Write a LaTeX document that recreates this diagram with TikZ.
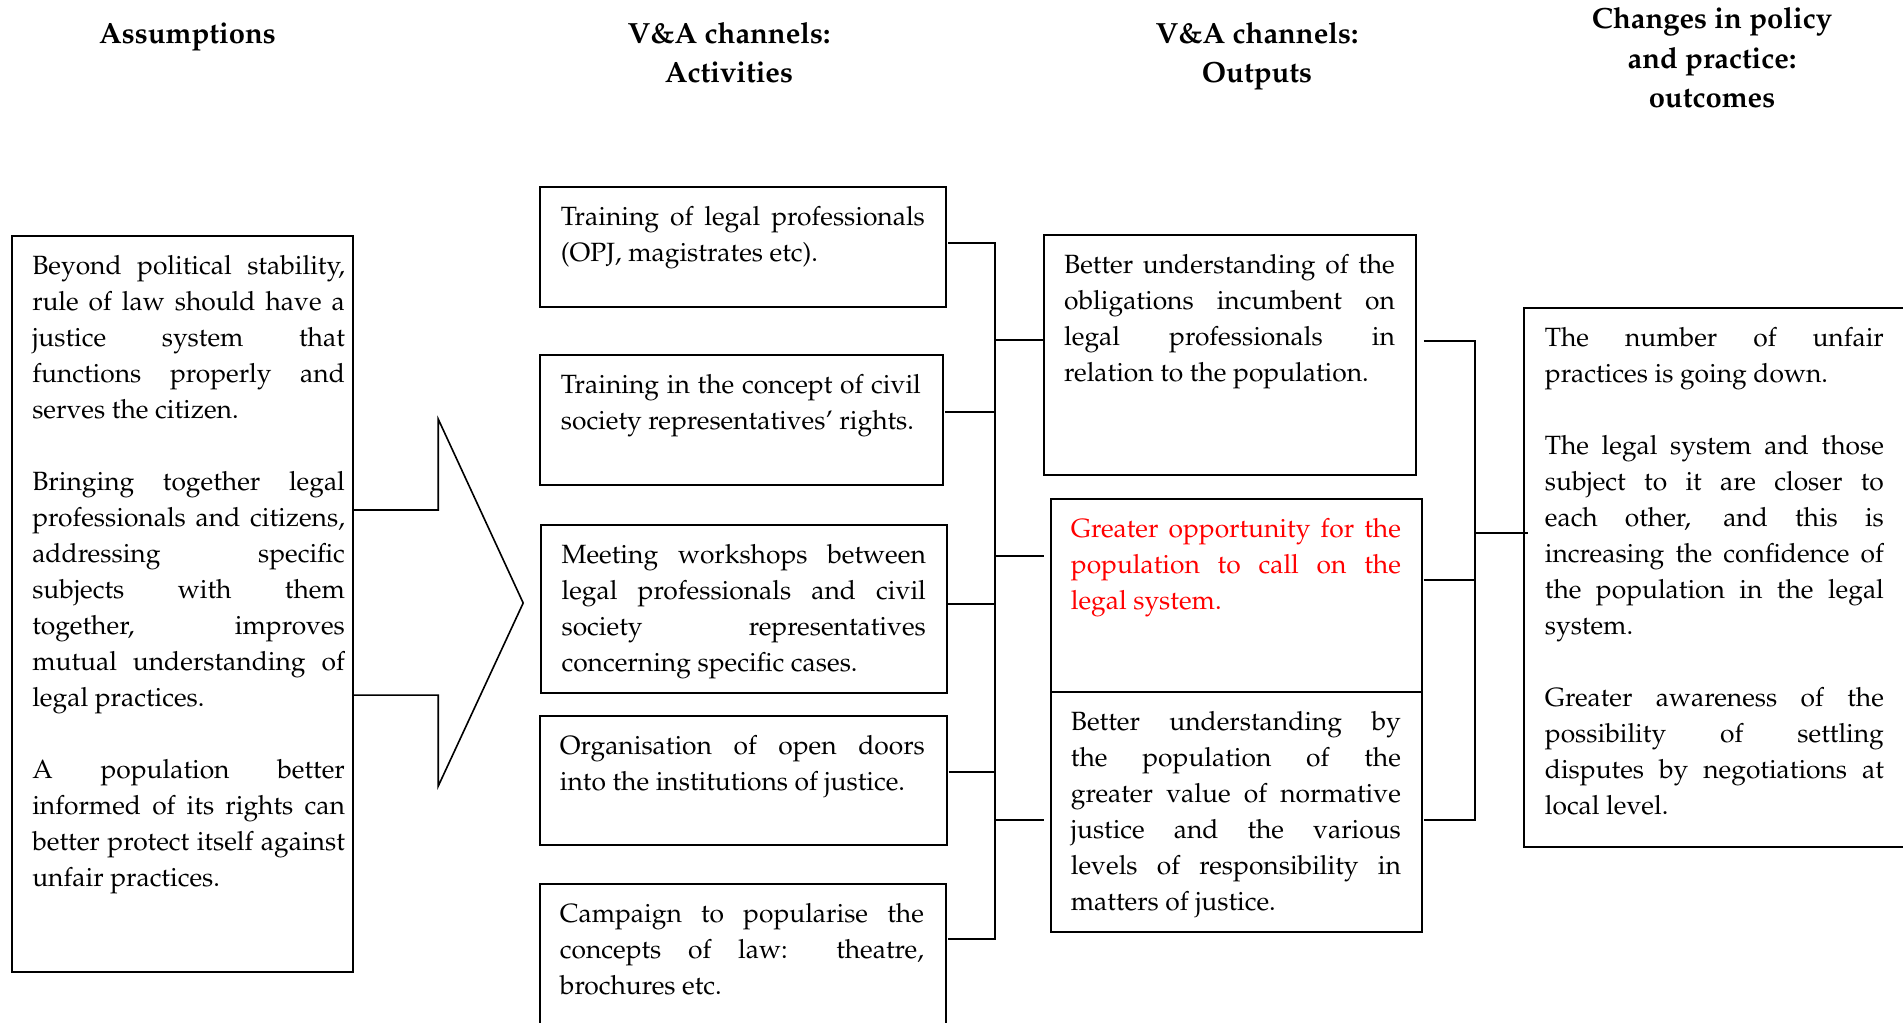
\documentclass[tikz,border=0pt]{standalone}
\usepackage[T1]{fontenc}
\usepackage{mathpazo}
\usetikzlibrary{calc}

% justified text with forced line ends
\tolerance=10000
\hbadness=10000
\hyphenpenalty=10000
\exhyphenpenalty=10000

% box body: width, height, left pad, right pad, text
\newcommand\cellpar[5]{%
  \parbox[c][#2][t]{#1}{%
    \leftskip=#3\relax\rightskip=#4\relax
    \vspace*{6.6pt}\strut\ignorespaces#5\par}}
\newcommand\paragap{\par\vspace{18pt}}

\tikzset{
  every node/.style={font=\fontsize{13.2}{18}\selectfont},
  boxnode/.style={draw, line width=0.9pt, inner sep=0pt, anchor=north west},
  conn/.style={line width=0.9pt},
  head/.style={font=\bfseries\fontsize{14.6}{19.75}\selectfont, anchor=base, inner sep=0pt},
  blockarrow/.style={line width=0.8pt, line join=miter},
}

\begin{document}
\begin{tikzpicture}[x=0.5pt, y=-0.5pt]
\useasboundingbox (0,0) rectangle (1903,1023);
\clip (0,0) rectangle (1903,1023);

% column headings
\node[head] (hAss) at (187.5,43) {Assumptions};
\node[head] (hAct) at (729,43) {\begin{tabular}[t]{@{}c@{}}V\&A channels:\\Activities\end{tabular}};
\node[head] (hOut) at (1257,43) {\begin{tabular}[t]{@{}c@{}}V\&A channels:\\Outputs\end{tabular}};
\node[head] (hRes) at (1712,28.5) {\begin{tabular}[t]{@{}c@{}}Changes in policy\\and practice:\\outcomes\end{tabular}};

% assumptions
\node[boxnode] (L) at (10.7,234.9) {\cellpar{170.65pt}{368pt}{10.35pt}{4pt}{%
Beyond political stability,\linebreak rule of law should have a\linebreak justice system that\linebreak functions properly and\linebreak serves the citizen.\paragap
Bringing together legal\linebreak professionals and citizens,\linebreak addressing specific\linebreak subjects with them\linebreak together, improves\linebreak mutual understanding of\linebreak legal practices.\paragap
A population better\linebreak informed of its rights can\linebreak better protect itself against\linebreak unfair practices.}};

% activities
\node[boxnode] (A1) at (539,186) {\cellpar{203pt}{59.85pt}{10.5pt}{10.5pt}{%
Training of legal professionals\linebreak (OPJ, magistrates etc).}};
\node[boxnode] (A2) at (539,354.3) {\cellpar{201.35pt}{65pt}{10.5pt}{10.85pt}{%
Training in the concept of civil\linebreak society representatives' rights.}};
\node[boxnode] (A3) at (540,524) {\cellpar{203pt}{83.85pt}{10.35pt}{10.5pt}{%
Meeting workshops between\linebreak legal professionals and civil\linebreak society representatives\linebreak concerning specific cases.}};
\node[boxnode] (A4) at (539,715) {\cellpar{203.35pt}{64.35pt}{10pt}{10.85pt}{%
Organisation of open doors\linebreak into the institutions of justice.}};
\node[boxnode] (A5) at (539,882.7) {\cellpar{203pt}{78.65pt}{10pt}{11pt}{%
Campaign to popularise the\linebreak concepts of law: theatre,\linebreak brochures etc.}};

% outputs
\node[boxnode] (O1) at (1042.7,234.3) {\cellpar{186.15pt}{120pt}{10.3pt}{10.5pt}{%
Better understanding of the\linebreak obligations incumbent on\linebreak legal professionals in\linebreak relation to the population.}};
\node[boxnode] (O2) at (1050,498.3) {\cellpar{185.5pt}{96.2pt}{10pt}{10.5pt}{%
\color{red}Greater opportunity for the\linebreak population to call on the\linebreak legal system.}};
\node[boxnode] (O3) at (1050,690.7) {\cellpar{185.5pt}{120pt}{10pt}{10.5pt}{%
Better understanding by\linebreak the population of the\linebreak greater value of normative\linebreak justice and the various\linebreak levels of responsibility in\linebreak matters of justice.}};

% outcomes
\node[boxnode] (OC) at (1523.3,306.7) {\cellpar{193.35pt}{269.5pt}{10.35pt}{13.5pt}{%
The number of unfair\linebreak practices is going down.\paragap
The legal system and those\linebreak subject to it are closer to\linebreak each other, and this is\linebreak increasing the confidence of\linebreak the population in the legal\linebreak system.\paragap
Greater awareness of the\linebreak possibility of settling\linebreak disputes by negotiations at\linebreak local level.}};

% block arrow from the assumptions into the activities
\draw[blockarrow] ($(L.north east)+(0,275.1)$) -- ++(84.4,0) -- ++(0,-91)
  -- ++(85,184) -- ++(-85,183.2) -- ++(0,-91.1) -- ++(-84.4,0);

% activities bus
\coordinate (busA) at (995,0);
\coordinate (a1) at ($(A1.north east)+(1.5,57.3)$);
\coordinate (a2) at ($(A2.north east)+(1.5,57.4)$);
\coordinate (a3) at ($(A3.north east)+(0.5,80)$);
\coordinate (a4) at ($(A4.north east)+(1,56.7)$);
\coordinate (a5) at ($(A5.north east)+(1.5,56.6)$);
\draw[conn] (a1) -- (a1 -| busA) -- (a5 -| busA) -- (a5);
\draw[conn] (a2) -- (a2 -| busA);
\draw[conn] (a3) -- (a3 -| busA);
\draw[conn] (a4) -- (a4 -| busA);

% bus to outputs
\coordinate (o1l) at ($(O1.north west)+(0,105.7)$);
\coordinate (o2l) at ($(O2.north west)+(-6,57.7)$);
\coordinate (o3l) at ($(O3.north west)+(-6,129.3)$);
\draw[conn] (o1l -| busA) -- (o1l);
\draw[conn] (o2l -| busA) -- (o2l);
\draw[conn] (o3l -| busA) -- (o3l);

% outputs bus to outcomes
\coordinate (busB) at (1475,0);
\coordinate (o1r) at ($(O1.north east)+(7,106.4)$);
\coordinate (o2r) at ($(O2.north east)+(0.7,81.7)$);
\coordinate (o3r) at ($(O3.north east)+(0.7,129.3)$);
\draw[conn] (o1r) -- (o1r -| busB) -- (o3r -| busB) -- (o3r);
\draw[conn] (o2r) -- (o2r -| busB);
\coordinate (ocl) at ($(OC.north west)+(5,226)$);
\draw[conn] (ocl -| busB) -- (ocl);
\end{tikzpicture}
\end{document}
